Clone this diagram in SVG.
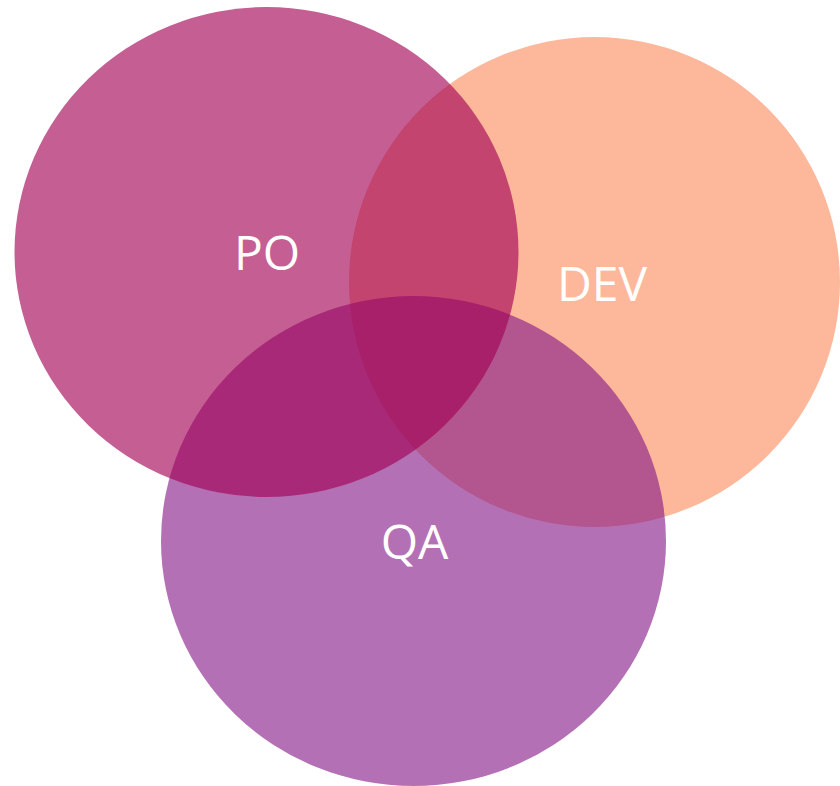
<svg xmlns="http://www.w3.org/2000/svg" width="840" height="786" viewBox="0 0 840 786">
<style>
.lbl{font-family:"Open Sans","Liberation Sans",sans-serif;font-size:48px;fill:#ffffff;text-anchor:middle}
</style>
<rect width="840" height="786" fill="#ffffff"/>
<g id="dev">
<ellipse cx="594.5" cy="282" rx="245.5" ry="245" fill="#FDB89B"/>
</g>
<g id="qa">
<ellipse cx="413.5" cy="541" rx="252.5" ry="245" fill="#891C88" fill-opacity="0.63"/>
</g>
<g id="po">
<ellipse cx="266.5" cy="252" rx="252" ry="245" fill="#A10054" fill-opacity="0.63"/>
</g>
<g id="labels">
<text class="lbl" x="267" y="270">PO</text>
<text class="lbl" x="602" y="301">DEV</text>
<text class="lbl" x="414.5" y="559">QA</text>
</g>
</svg>
